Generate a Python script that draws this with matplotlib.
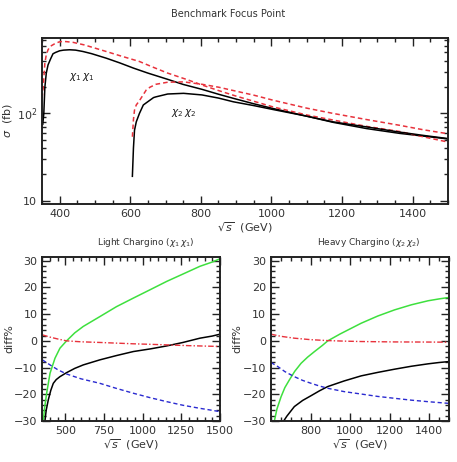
import matplotlib
matplotlib.use("Agg")
import matplotlib.pyplot as plt
from matplotlib.ticker import MultipleLocator, FixedLocator, FixedFormatter, NullFormatter

# ---- top panel: cross sections (fb) ----
x_c11 = [352, 355, 358, 362, 367, 374, 381, 388, 400, 411, 428, 445, 466, 490, 532, 570, 609, 650,
         706, 750, 803, 850, 892, 950, 1004, 1100, 1175, 1270, 1364, 1430, 1500]
s_c11 = [75, 100, 200, 289, 360, 420, 483, 500, 523, 532, 537, 532, 513, 485, 430, 380, 331, 290,
         246, 215, 189, 166, 149, 129, 114, 93, 79, 67, 59, 55, 51]
x_c11_red = [350, 353, 358, 362, 367, 374, 386, 398, 409, 420, 438, 470, 532, 570, 626, 660, 706, 760,
             803, 850, 900, 1004, 1100, 1175, 1270, 1364, 1430, 1500]
s_c11_red = [150, 194, 378, 470, 537, 590, 630, 660, 670, 665, 653, 610, 513, 460, 394, 345, 290, 245,
             212, 183, 158, 119, 96, 84, 71, 62, 54, 47]
x_c22 = [606, 609, 612, 617, 626, 637, 645, 666, 673, 706, 751, 803, 850, 892, 950, 1004, 1100,
         1175, 1270, 1364, 1430, 1500]
s_c22 = [19, 40, 64, 80, 100, 125, 132, 152, 155, 167, 170, 163, 150, 136, 123, 111, 93, 80, 70,
         61, 56, 51.5]
x_c22_red = [606, 609, 612, 617, 626, 645, 656, 673, 706, 751, 803, 850, 892, 950, 1004, 1100, 1175,
             1270, 1364, 1430, 1500]
s_c22_red = [54, 85, 109, 125, 140, 185, 200, 216, 228, 230, 216, 200, 183, 162, 142, 115, 100, 85,
             73, 65, 58.5]

# ---- bottom left: light chargino diff% ----
xl_green = [356, 365, 378, 400, 432, 464, 507, 560, 615, 723, 830, 939, 1050, 1155, 1260, 1370, 1450, 1500]
yl_green = [-30, -25, -19.6, -12.1, -6.5, -2.75, 0, 3.0, 5.4, 9.1, 12.8, 16, 19.2, 22.25, 25.0, 27.9, 29.5, 30.75]
xl_black = [367, 375, 389, 405, 421, 440, 464, 507, 560, 615, 723, 830, 939, 1050, 1155, 1260, 1370, 1450, 1500]
yl_black = [-30, -26, -22, -18.5, -15.9, -14.5, -13.4, -11.9, -10.3, -9, -7.1, -5.5, -4, -3.0, -1.9, -0.6, 1, 1.8, 2.5]
xl_red = [350, 400, 450, 507, 600, 723, 830, 939, 1050, 1155, 1300, 1500]
yl_red = [2.25, 1.4, 0.7, 0, -0.35, -0.6, -0.85, -1.1, -1.3, -1.5, -1.8, -2.1]
xl_blue = [350, 400, 450, 507, 600, 723, 830, 939, 1050, 1155, 1260, 1370, 1450, 1500]
yl_blue = [-7.1, -9.0, -10.8, -12.4, -14.2, -15.9, -17.8, -19.6, -21.3, -22.75, -24.1, -25.25, -26.0, -26.5]

# ---- bottom right: heavy chargino diff% ----
xr_green = [617, 630, 651, 670, 693, 720, 752, 785, 820, 860, 887, 950, 1056, 1140, 1225, 1310, 1394, 1450, 1500]
yr_green = [-30, -25.5, -20.9, -17.5, -14.6, -11.4, -8.4, -6.1, -4, -1.7, 0, 2.6, 6.6, 9.3, 11.6, 13.5, 15, 15.7, 16.25]
xr_black = [664, 680, 700, 718, 760, 803, 845, 887, 970, 1056, 1140, 1225, 1310, 1394, 1450, 1500]
yr_black = [-30, -28.2, -26.3, -24.6, -22.3, -20.5, -18.7, -17.1, -15, -13.1, -11.8, -10.6, -9.5, -8.6, -8.1, -7.75]
xr_red = [600, 650, 718, 800, 887, 970, 1056, 1225, 1400, 1500]
yr_red = [2.5, 1.7, 1.0, 0.45, 0.1, -0.1, -0.25, -0.4, -0.45, -0.5]
xr_blue = [600, 634, 670, 718, 760, 803, 845, 887, 970, 1056, 1140, 1225, 1310, 1400, 1500]
yr_blue = [-8.1, -9.6, -11.5, -13.4, -14.8, -15.9, -16.9, -17.75, -19.0, -19.9, -20.8, -21.5, -22.2, -22.8, -23.4]
xr_ticks = [800, 1000, 1200, 1400]

RED = '#e8323c'
GREEN = '#3ee03e'
BLUE = '#2a2ad0'
AXC = '#222222'

plt.rcParams['font.family'] = ['DejaVu Sans']
plt.rcParams['mathtext.fontset'] = 'dejavusans'

fig = plt.figure(figsize=(4.57, 4.62), dpi=100)


def style_axes(ax):
    for sp in ax.spines.values():
        sp.set_linewidth(1.4)
        sp.set_color(AXC)
    ax.tick_params(which='both', direction='in', top=True, right=True,
                   colors=AXC, labelcolor='#333333', labelsize=8, width=1.0)
    ax.tick_params(which='major', length=6)
    ax.tick_params(which='minor', length=3)


# top panel
ax = fig.add_axes([0.092, 0.558, 0.888, 0.360])
ax.plot(x_c11, s_c11, color='black', lw=1.1)
ax.plot(x_c11_red, s_c11_red, color=RED, lw=1.1, ls=(0, (3, 2)))
ax.plot(x_c22, s_c22, color='black', lw=1.1)
ax.plot(x_c22_red, s_c22_red, color=RED, lw=1.1, ls=(0, (3, 2)))
ax.set_yscale('log')
ax.set_xlim(350, 1500)
ax.set_ylim(9.1, 735)
ax.xaxis.set_major_locator(MultipleLocator(200))
ax.xaxis.set_minor_locator(MultipleLocator(50))
ax.yaxis.set_major_locator(FixedLocator([10, 100]))
ax.yaxis.set_major_formatter(FixedFormatter(['10', r'$10^2$']))
ax.yaxis.set_minor_locator(FixedLocator([20, 30, 40, 50, 60, 70, 80, 90, 200, 300, 400, 500, 600, 700]))
ax.yaxis.set_minor_formatter(NullFormatter())
style_axes(ax)
ax.set_xlabel(r'$\sqrt{s}$  (GeV)', fontsize=8, color='#333333', labelpad=1)
ax.set_ylabel(r'$\sigma$  (fb)', fontsize=8, color='#333333', labelpad=2)
ax.text(462, 265, r'$\chi_1\,\chi_1$', fontsize=7.5, ha='center', va='center', color='#222222')
ax.text(750, 102, r'$\chi_2\,\chi_2$', fontsize=7.5, ha='center', va='center', color='#222222')
fig.text(0.5, 0.970, 'Benchmark Focus Point', ha='center', va='center', fontsize=7, color='#333333')

# bottom left
axl = fig.add_axes([0.0926, 0.0887, 0.3888, 0.3557])
axl.plot(xl_green, yl_green, color=GREEN, lw=1.1)
axl.plot(xl_black, yl_black, color='black', lw=1.1)
axl.plot(xl_red, yl_red, color=RED, lw=1.0, ls=(0, (4, 1.5, 1, 1.5)))
axl.plot(xl_blue, yl_blue, color=BLUE, lw=1.0, ls=(0, (3, 2)))
axl.set_xlim(350, 1500)
axl.set_ylim(-30, 31.5)
axl.xaxis.set_major_locator(MultipleLocator(250))
axl.xaxis.set_minor_locator(MultipleLocator(50))
axl.yaxis.set_major_locator(MultipleLocator(10))
axl.yaxis.set_minor_locator(MultipleLocator(2))
style_axes(axl)
axl.set_xlabel(r'$\sqrt{s}$  (GeV)', fontsize=8, color='#333333', labelpad=1)
axl.set_ylabel('diff%', fontsize=8, color='#333333', labelpad=0)
axl.text(0.58, 1.045, r'Light Chargino ($\chi_1\,\chi_1$)', transform=axl.transAxes,
         ha='center', va='bottom', fontsize=6.5, color='#333333')

# bottom right
axr = fig.add_axes([0.593, 0.0887, 0.3895, 0.3557])
axr.plot(xr_green, yr_green, color=GREEN, lw=1.1)
axr.plot(xr_black, yr_black, color='black', lw=1.1)
axr.plot(xr_red, yr_red, color=RED, lw=1.0, ls=(0, (4, 1.5, 1, 1.5)))
axr.plot(xr_blue, yr_blue, color=BLUE, lw=1.0, ls=(0, (3, 2)))
axr.set_xlim(600, 1500)
axr.set_ylim(-30, 31.5)
axr.xaxis.set_major_locator(FixedLocator(xr_ticks))
axr.xaxis.set_minor_locator(MultipleLocator(50))
axr.yaxis.set_major_locator(MultipleLocator(10))
axr.yaxis.set_minor_locator(MultipleLocator(2))
style_axes(axr)
axr.set_xlabel(r'$\sqrt{s}$  (GeV)', fontsize=8, color='#333333', labelpad=1)
axr.set_ylabel('diff%', fontsize=8, color='#333333', labelpad=0)
axr.text(0.55, 1.045, r'Heavy Chargino ($\chi_2\,\chi_2$)', transform=axr.transAxes,
         ha='center', va='bottom', fontsize=6.5, color='#333333')

fig.savefig('out.png', dpi=100)
